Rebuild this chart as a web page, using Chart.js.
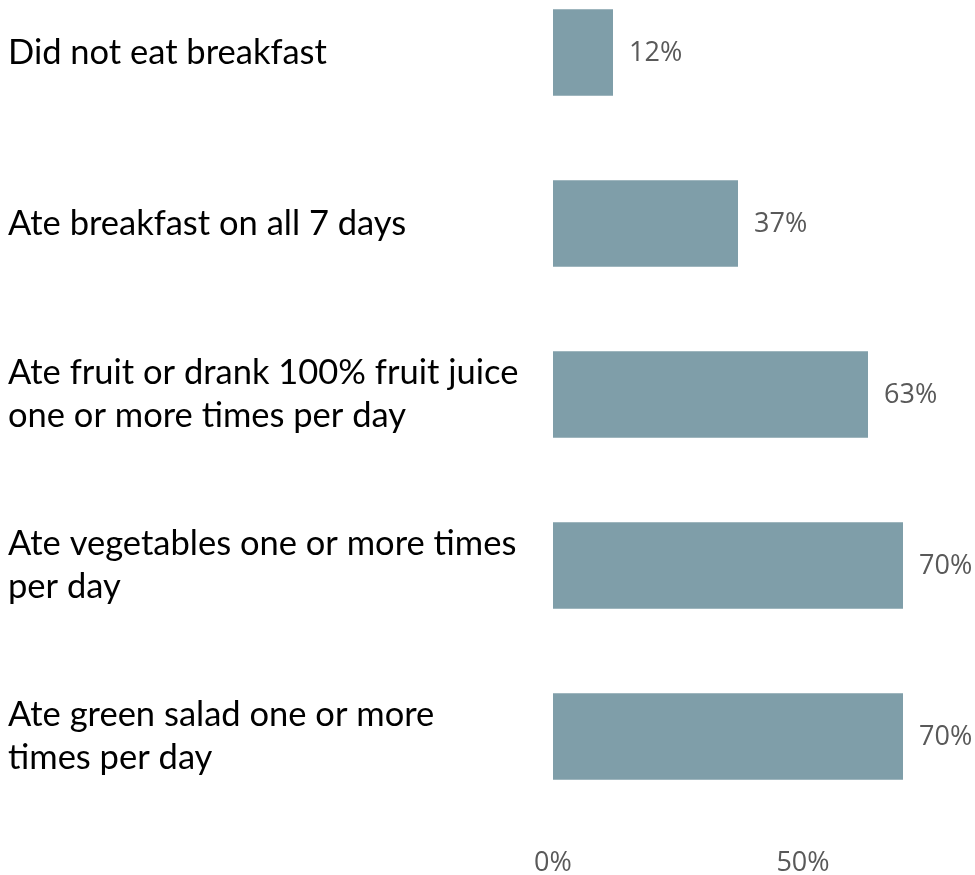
<!DOCTYPE html>
<html>
<head>
<meta charset="utf-8">
<title>Breakfast and food habits</title>
<script src="https://cdn.jsdelivr.net/npm/chart.js@4/dist/chart.umd.min.js"></script>
<style>
  html, body { margin: 0; padding: 0; background: #fff; overflow: hidden; }
  body { width: 975px; height: 875px; position: relative; }
  /* canvas starts a little above the page so the top bar sits near the edge */
  #wrap { position: absolute; left: 0; top: -33px; width: 975px; height: 912px; }
</style>
</head>
<body>
<div id="wrap"><canvas id="habits"></canvas></div>
<script>
// data
const categories = [
    'Did not eat breakfast',
    'Ate breakfast on all 7 days',
    ['Ate fruit or drank 100% fruit juice', 'one or more times per day'],
    ['Ate vegetables one or more times', 'per day'],
    ['Ate green salad one or more', 'times per day']
];
const percents = [12, 37, 63, 70, 70];
const xTicks = [0, 50];

const barColor = '#7f9ea9';
const grey = '#595959';

// value labels to the right of each bar
const valueLabels = {
    id: 'valueLabels',
    afterDatasetsDraw(chart) {
        const ctx = chart.ctx;
        const meta = chart.getDatasetMeta(0);
        ctx.save();
        ctx.font = '27px "Open Sans"';
        ctx.fillStyle = grey;
        ctx.textAlign = 'left';
        ctx.textBaseline = 'middle';
        meta.data.forEach((bar, i) => {
            ctx.fillText(percents[i] + '%', bar.x + 16, bar.y + 1);
        });
        ctx.restore();
    }
};

const ctxHabits = document.getElementById('habits').getContext('2d');
let chartHabits = new Chart(ctxHabits, {
    type: 'bar',
    data: {
        labels: categories,
        datasets: [{
            data: percents,
            backgroundColor: barColor,
            barPercentage: 0.505,
            categoryPercentage: 1
        }]
    },
    options: {
        indexAxis: 'y',
        responsive: true,
        maintainAspectRatio: false,
        animation: false,
        layout: { padding: { left: 8, right: 0, top: 0, bottom: 0 } },
        plugins: {
            legend: { display: false },
            tooltip: { enabled: false }
        },
        scales: {
            x: {
                min: 0,
                max: 84.4,
                afterBuildTicks: (scale) => {
                    scale.ticks = xTicks.map(v => ({ value: v }));
                },
                afterFit: (scale) => { scale.height = 57; },
                grid: { display: false, drawTicks: false },
                border: { display: false },
                ticks: {
                    padding: 25,
                    color: grey,
                    font: { family: 'Open Sans', size: 27 },
                    callback: (v) => v + '%'
                }
            },
            y: {
                // fixed label column, no extra room above/below the bars
                afterFit: (scale) => {
                    scale.width = 545;
                    scale.paddingTop = 0;
                    scale.paddingBottom = 0;
                },
                grid: { display: false, drawTicks: false },
                border: { display: false },
                ticks: {
                    crossAlign: 'far',
                    padding: 0,
                    color: '#000',
                    font: { family: 'Lato', size: 34.5, lineHeight: '43px' }
                }
            }
        }
    },
    plugins: [valueLabels]
});
</script>
</body>
</html>
